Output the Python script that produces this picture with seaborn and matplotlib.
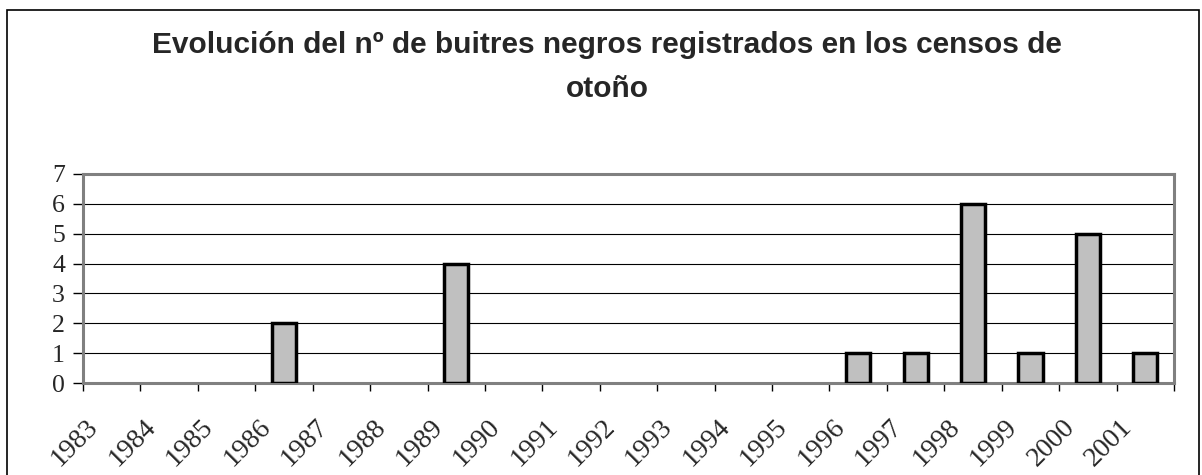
import matplotlib
matplotlib.use("Agg")
import matplotlib.pyplot as plt
from matplotlib.patches import Rectangle
import seaborn as sns
import pandas as pd

years = ["1983", "1984", "1985", "1986", "1987", "1988", "1989", "1990", "1991", "1992",
         "1993", "1994", "1995", "1996", "1997", "1998", "1999", "2000", "2001"]
counts = [0, 0, 0, 2, 0, 0, 4, 0, 0, 0, 0, 0, 0, 1, 1, 6, 1, 5, 1]
y_ticks = [0, 1, 2, 3, 4, 5, 6, 7]
title = "Evolución del nº de buitres negros registrados en los censos de\notoño"

sns.set_theme(style="white")
plt.rcParams["font.family"] = ["Liberation Serif", "DejaVu Serif"]

df = pd.DataFrame({"year": years, "count": counts})

W, H = 1202, 475
fig = plt.figure(figsize=(W / 100, H / 100), dpi=100)
ax = fig.add_axes([83 / W, (H - 383) / H, (1174 - 83) / W, (383 - 174) / H])

sns.barplot(data=df, x="year", y="count", ax=ax, color="#C0C0C0",
            edgecolor="black", linewidth=2.5, width=0.42, saturation=1, zorder=3)
for p in ax.patches:
    if p.get_height() == 0:
        p.set_visible(False)

n = len(years)
ax.set_xlim(-0.5, n - 0.5)
ax.set_ylim(0, 7)
ax.set_xlabel("")
ax.set_ylabel("")

# gridlines
ax.set_yticks(y_ticks)
ax.set_yticklabels([str(v) for v in y_ticks], fontsize=18.5)
ax.yaxis.grid(True, color="black", linewidth=0.8)
ax.set_axisbelow(True)

# tick marks at category boundaries, labels slightly to the right of each boundary
bounds = [i - 0.5 for i in range(n + 1)]
ax.set_xticks(bounds)
ax.set_xticklabels([""] * len(bounds))
label_pos = [i - 0.5 + 0.2 for i in range(n)]
ax.set_xticks(label_pos, minor=True)
ax.set_xticklabels(years, minor=True, fontsize=20, rotation=45, ha="right",
                   va="center", rotation_mode="anchor")

ax.tick_params(axis="x", which="major", length=6, width=1, color="black",
               direction="out", bottom=True)
ax.tick_params(axis="x", which="minor", length=0, pad=29, bottom=True)
ax.tick_params(axis="y", which="major", length=7, width=1, color="black",
               direction="out", pad=6, left=True)

for side in ["left", "right", "top", "bottom"]:
    ax.spines[side].set_visible(True)
    ax.spines[side].set_color("#808080")
    ax.spines[side].set_linewidth(2.2)

fig.text(607 / W, 1 - 67 / H, title, ha="center", va="center",
         family=["Liberation Sans", "DejaVu Sans"], fontweight="bold",
         fontsize=21.5, linespacing=1.7)

# outer chart border
fig.patches.append(Rectangle((7 / W, -0.1), (1199 - 7) / W, (H - 10) / H + 0.1,
                             transform=fig.transFigure, fill=False,
                             edgecolor="black", linewidth=1.2, zorder=0))

fig.savefig("out.png", dpi=100)
